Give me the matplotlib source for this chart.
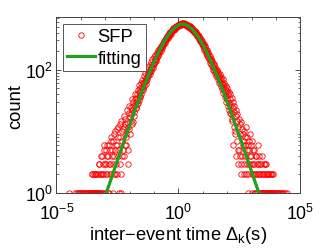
import matplotlib
matplotlib.use("Agg")
import matplotlib.pyplot as plt
import numpy as np
from matplotlib.ticker import LogLocator, FixedLocator, LogFormatterMathtext, NullFormatter

plt.rcParams['font.family'] = ['Liberation Sans', 'DejaVu Sans']
plt.rcParams['mathtext.fontset'] = 'custom'
plt.rcParams['mathtext.rm'] = 'Liberation Sans'
plt.rcParams['mathtext.it'] = 'Liberation Sans:italic'
plt.rcParams['mathtext.default'] = 'regular'

# SFP histogram, two interleaved bin sets: log10 bin centres and counts (0 = empty bin)
sfp_logx = np.round(np.arange(-4.50, 4.48, 0.03), 3)
sfp_count = np.array([
    1, 0, 0, 0, 0, 0, 0, 0, 0, 1,
    0, 1, 0, 1, 1, 0, 1, 1, 1, 0,
    1, 1, 1, 0, 1, 1, 1, 1, 0, 1,
    1, 1, 2, 1, 1, 2, 1, 1, 2, 1,
    2, 1, 3, 1, 2, 4, 1, 2, 5, 3,
    1, 2, 4, 6, 1, 3, 5, 2, 7, 4,
    1, 3, 9, 5, 2, 6, 11, 4, 8, 1,
    13, 2, 1, 10, 5, 12, 4, 16, 9, 6,
    14, 3, 20, 11, 17, 25, 13, 22, 30, 18,
    27, 33, 24, 31, 40, 29, 44, 37, 50, 41,
    52, 47, 60, 54, 66, 58, 74, 70, 85, 79,
    95, 84, 106, 97, 116, 108, 131, 122, 147, 138,
    158, 180, 176, 200, 198, 215, 222, 247, 244, 275,
    272, 301, 300, 331, 326, 356, 360, 389, 383, 412,
    410, 441, 445, 468, 466, 489, 486, 509, 507, 530,
    530, 548, 541, 562, 550, 575, 556, 568, 549, 560,
    545, 525, 538, 511, 520, 496, 505, 470, 483, 450,
    446, 418, 425, 395, 405, 370, 380, 340, 350, 305,
    310, 280, 285, 255, 262, 228, 240, 205, 212, 180,
    186, 160, 170, 142, 152, 126, 136, 110, 121, 98,
    104, 92, 96, 82, 88, 74, 80, 64, 70, 58,
    62, 50, 56, 44, 48, 38, 45, 33, 40, 29,
    34, 20, 27, 16, 24, 6, 21, 10, 18, 4,
    15, 3, 12, 5, 9, 2, 14, 4, 7, 10,
    3, 6, 2, 8, 5, 1, 7, 3, 4, 6,
    2, 1, 5, 3, 1, 2, 4, 1, 3, 2,
    4, 1, 2, 3, 1, 1, 2, 3, 1, 2,
    3, 1, 1, 2, 1, 1, 2, 1, 1, 2,
    1, 1, 1, 0, 1, 1, 1, 0, 1, 1,
    1, 0, 1, 1, 0, 1, 0, 0, 1, 0,
])
sfp_logx2 = np.round(np.arange(-3.585, 3.886, 0.03), 3)
sfp_count2 = np.array([
    1, 2, 1, 1, 1, 2, 1, 2, 1, 1,
    1, 3, 2, 1, 4, 1, 3, 2, 6, 1,
    3, 5, 2, 4, 1, 6, 3, 8, 2, 5,
    7, 2, 4, 10, 3, 6, 2, 12, 5, 8,
    3, 15, 7, 4, 11, 18, 6, 13, 8, 22,
    12, 5, 26, 9, 15, 19, 34, 14, 26, 21,
    40, 24, 35, 28, 47, 32, 56, 36, 60, 45,
    68, 50, 78, 60, 88, 66, 101, 75, 110, 90,
    120, 96, 134, 112, 150, 124, 160, 140, 176, 150,
    188, 168, 208, 186, 226, 204, 246, 228, 262, 250,
    290, 270, 316, 300, 340, 324, 366, 352, 392, 380,
    425, 420, 452, 440, 472, 466, 494, 490, 516, 510,
    528, 538, 545, 540, 558, 553, 566, 548, 560, 540,
    542, 520, 530, 500, 512, 478, 495, 456, 470, 436,
    450, 410, 428, 382, 400, 356, 372, 320, 345, 290,
    318, 265, 288, 240, 258, 210, 232, 188, 210, 168,
    190, 150, 170, 130, 152, 114, 138, 100, 124, 88,
    112, 80, 100, 70, 90, 62, 84, 54, 76, 48,
    70, 42, 62, 36, 55, 30, 50, 26, 44, 22,
    40, 19, 35, 15, 30, 12, 26, 9, 22, 7,
    19, 5, 16, 4, 13, 3, 11, 6, 9, 2,
    8, 4, 12, 3, 6, 2, 5, 9, 3, 4,
    7, 2, 3, 5, 1, 4, 2, 3, 6, 1,
    2, 3, 1, 2, 4, 1, 2, 1, 3, 1,
    2, 1, 2, 1, 1, 2, 1, 2, 1, 1,
])

# fitted curve
fit_logx = [-2.96, -2.83, -2.63, -2.43, -2.23, -2.03, -1.83, -1.63, -1.43, -1.23,
            -1.03, -0.83, -0.63, -0.43, -0.23, -0.03, 0.07, 0.17, 0.27, 0.37,
            0.57, 0.77, 0.97, 1.17, 1.37, 1.57, 1.77, 1.97, 2.17, 2.37,
            2.57, 2.77, 2.97, 3.17, 3.30]
fit_count = [1.0, 1.4, 2.4, 4.1, 7.0, 11.7, 19.5, 32, 52, 82,
             126, 188, 268, 361, 453, 523, 546, 550, 546, 523,
             453, 361, 268, 188, 126, 82, 52, 32, 19.5, 11.7,
             7.0, 4.1, 2.4, 1.4, 1.0]

all_logx = np.concatenate([sfp_logx, sfp_logx2])
all_count = np.concatenate([sfp_count, sfp_count2])
keep = all_count > 0

fig = plt.figure(figsize=(3.32, 2.51), dpi=100)
ax = fig.add_axes([0.170, 0.227, 0.735, 0.700])

ax.plot(10.0 ** all_logx[keep], all_count[keep], 'o', ls='none', ms=3.9,
        mfc='none', mec='#ff0000', mew=0.6, label='SFP')
ax.plot(10.0 ** np.array(fit_logx), fit_count, '-', color='#1fa01f', lw=2.3,
        label='fitting')

ax.set_xscale('log')
ax.set_yscale('log')
ax.set_xlim(1e-5, 1e5)
ax.set_ylim(1, 710)

ax.xaxis.set_major_locator(FixedLocator([1e-5, 1e0, 1e5]))
ax.xaxis.set_minor_locator(FixedLocator([10.0 ** k for k in range(-4, 5) if k != 0]))
ax.xaxis.set_major_formatter(LogFormatterMathtext())
ax.xaxis.set_minor_formatter(NullFormatter())
ax.yaxis.set_major_locator(FixedLocator([1, 100]))
ax.yaxis.set_minor_locator(LogLocator(base=10, subs=np.arange(2, 10), numticks=10))
ax.yaxis.set_major_formatter(LogFormatterMathtext())
ax.yaxis.set_minor_formatter(NullFormatter())

ax.tick_params(which='both', direction='in', top=True, right=True,
               labelsize=12.8, color='#333333')
ax.tick_params(which='major', length=3.5, width=0.6, pad=2)
ax.tick_params(axis='x', which='major', pad=7)
ax.tick_params(which='minor', length=1.8, width=0.5)
for s in ax.spines.values():
    s.set_linewidth(0.7)
    s.set_color('#444444')

ax.set_xlabel('inter\u2212event time $\\Delta_{k}$(s)', fontsize=13.2, labelpad=1)
ax.set_ylabel('count', fontsize=13.2, labelpad=1)

leg = ax.legend(loc='upper left', fontsize=13.2, handlelength=1.5,
                handletextpad=0.15, labelspacing=0.25, borderpad=0.25,
                borderaxespad=0.35, fancybox=False, framealpha=1)
leg.get_frame().set_edgecolor('#555555')
leg.get_frame().set_linewidth(0.7)

fig.savefig('out.png', dpi=100)
